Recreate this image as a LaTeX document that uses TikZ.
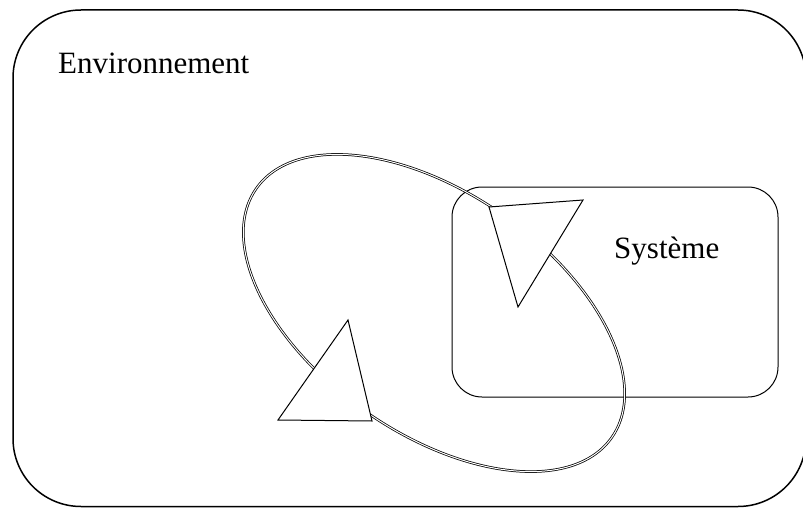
\documentclass[tikz,border=0pt]{standalone}
\usepackage{fontspec}
\setmainfont{Liberation Serif}
\begin{document}
\begin{tikzpicture}[x=1pt,y=-1pt,
  envbox/.style={draw, line width=1.5pt, rounded corners=68pt},
  sysbox/.style={draw, line width=1pt, rounded corners=30pt},
  loopline/.style={draw, line width=0.75pt, double=white, double distance=1pt},
  headtri/.style={draw, fill=white, line width=1pt, line join=miter},
  lbl/.style={font=\fontsize{31}{36}\selectfont, inner sep=0pt, anchor=base west}]
\useasboundingbox (0,0) rectangle (803,508);
\clip (0,0) rectangle (803,508);
\draw[envbox] (13,10) rectangle (806,506.5);
\draw[sysbox] (452,187) rectangle (778,397);
\draw[loopline, rotate around={-35:(434,313)}] (434,313) ellipse (217pt and 120pt);
\draw[headtri] (489,207) -- (583,200) -- (518,307) -- cycle;
\draw[headtri] (348,320) -- (278,420) -- (372,421) -- cycle;
\node[lbl] (env) at (58,74) {Environnement};
\node[lbl] (sys) at (614,258) {Système};
\end{tikzpicture}
\end{document}
